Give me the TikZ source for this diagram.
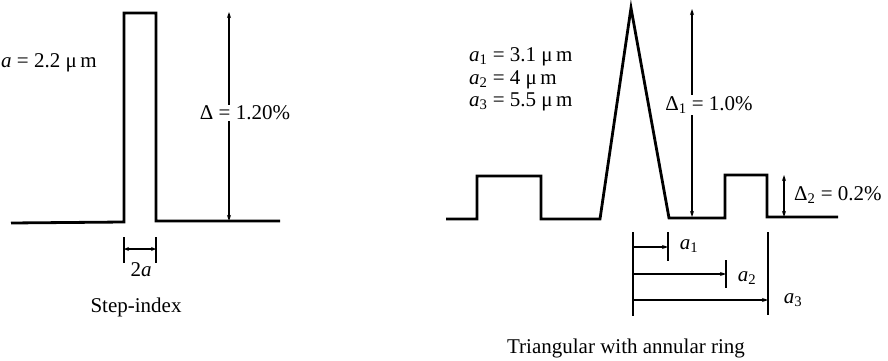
\documentclass[tikz,border=0pt]{standalone}
\usepackage{fontspec}
\setmainfont{Liberation Serif}
\usetikzlibrary{arrows.meta}
\begin{document}
\begin{tikzpicture}[x=1pt,y=-1pt,
  prof/.style={line width=2.8pt, line join=miter, line cap=butt},
  dimarrow/.style={line width=1.1pt, -{Stealth[length=6pt,width=4pt]}},
  ddimarrow/.style={line width=1.1pt, {Stealth[length=6pt,width=4pt]}-{Stealth[length=6pt,width=4pt]}},
  sdimarrow/.style={line width=1.1pt, {Stealth[length=5pt,width=4pt]}-{Stealth[length=5pt,width=4pt]}},
  ticks/.style={line width=1.1pt},
  lbl/.style={font=\fontsize{21}{24}\selectfont, inner sep=1pt},
]
\useasboundingbox (0,0) rectangle (888,361);

% ---------- step-index profile ----------
\coordinate (L0) at (11,223);
\coordinate (L1) at (124,222);
\coordinate (L2) at (124,13);
\coordinate (L3) at (156,13);
\coordinate (L4) at (156,221);
\coordinate (L5) at (280,221);
\draw[prof] (L0) -- (L1) -- (L2) -- (L3) -- (L4) -- (L5);

\coordinate (dT) at (229,12);
\coordinate (dB) at (229,221);
\draw[ddimarrow] (dT) -- (dB);
\node[lbl, fill=white] (dlab) at (245,113) {Δ = 1.20\%};

\node[lbl, anchor=west] (alab) at (0,63) {\textit{a} = 2.2 μ\,m};

\coordinate (tA1) at (124,237); \coordinate (tA2) at (124,263);
\coordinate (tB1) at (156,237); \coordinate (tB2) at (156,263);
\draw[ticks] (tA1) -- (tA2);
\draw[ticks] (tB1) -- (tB2);
\coordinate (wA) at (124,249); \coordinate (wB) at (156,249);
\draw[sdimarrow] (wA) -- (wB);
\node[lbl] (twoa) at (141,270) {2\textit{a}};
\node[lbl] (cap1) at (136,307) {Step-index};

% ---------- triangular with annular ring ----------
\coordinate (R0) at (446,219);
\coordinate (R1) at (477,219);
\coordinate (R2) at (477,176);
\coordinate (R3) at (541,176);
\coordinate (R4) at (541,219);
\coordinate (R5) at (600,219);
\coordinate (R6) at (631,8);
\coordinate (R7) at (669,218);
\coordinate (R8) at (725,218);
\coordinate (R9) at (725,175);
\coordinate (R10) at (767,175);
\coordinate (R11) at (767,217);
\coordinate (R12) at (838,217);
\draw[prof] (R0) -- (R1) -- (R2) -- (R3) -- (R4) -- (R5) -- (R6) -- (R7)
  -- (R8) -- (R9) -- (R10) -- (R11) -- (R12);

\node[lbl, anchor=west] (a1t) at (468,57) {\textit{a}\textsubscript{1} = 3.1 μ\,m};
\node[lbl, anchor=west] (a2t) at (468,80) {\textit{a}\textsubscript{2} = 4 μ\,m};
\node[lbl, anchor=west] (a3t) at (468,102) {\textit{a}\textsubscript{3} = 5.5 μ\,m};

\coordinate (d1T) at (692,9);
\coordinate (d1B) at (692,217);
\draw[ddimarrow] (d1T) -- (d1B);
\node[lbl, fill=white] (d1lab) at (709,105) {Δ\textsubscript{1} = 1.0\%};

\coordinate (d2T) at (784,175);
\coordinate (d2B) at (784,217);
\draw[ddimarrow] (d2T) -- (d2B);
\node[lbl, anchor=west] (d2lab) at (793,195) {Δ\textsubscript{2} = 0.2\%};

% radius dimensions
\coordinate (vL1) at (633,232); \coordinate (vL2) at (633,316);
\draw[ticks] (vL1) -- (vL2);
\coordinate (vR1) at (768,232); \coordinate (vR2) at (768,315);
\draw[ticks] (vR1) -- (vR2);
\coordinate (t1a) at (668,232); \coordinate (t1b) at (668,261);
\draw[ticks] (t1a) -- (t1b);
\coordinate (t2a) at (726,260); \coordinate (t2b) at (726,288);
\draw[ticks] (t2a) -- (t2b);

\coordinate (s1) at (633,247); \coordinate (e1) at (668,247);
\coordinate (s2) at (633,274); \coordinate (e2) at (726,274);
\coordinate (s3) at (633,300); \coordinate (e3) at (768,300);
\draw[dimarrow] (s1) -- (e1);
\draw[dimarrow] (s2) -- (e2);
\draw[dimarrow] (s3) -- (e3);
\node[lbl] (a1l) at (689,246) {\textit{a}\textsubscript{1}};
\node[lbl] (a2l) at (747,278) {\textit{a}\textsubscript{2}};
\node[lbl] (a3l) at (793,300) {\textit{a}\textsubscript{3}};

\node[lbl] (cap2) at (626,348) {Triangular with annular ring};
\end{tikzpicture}
\end{document}
